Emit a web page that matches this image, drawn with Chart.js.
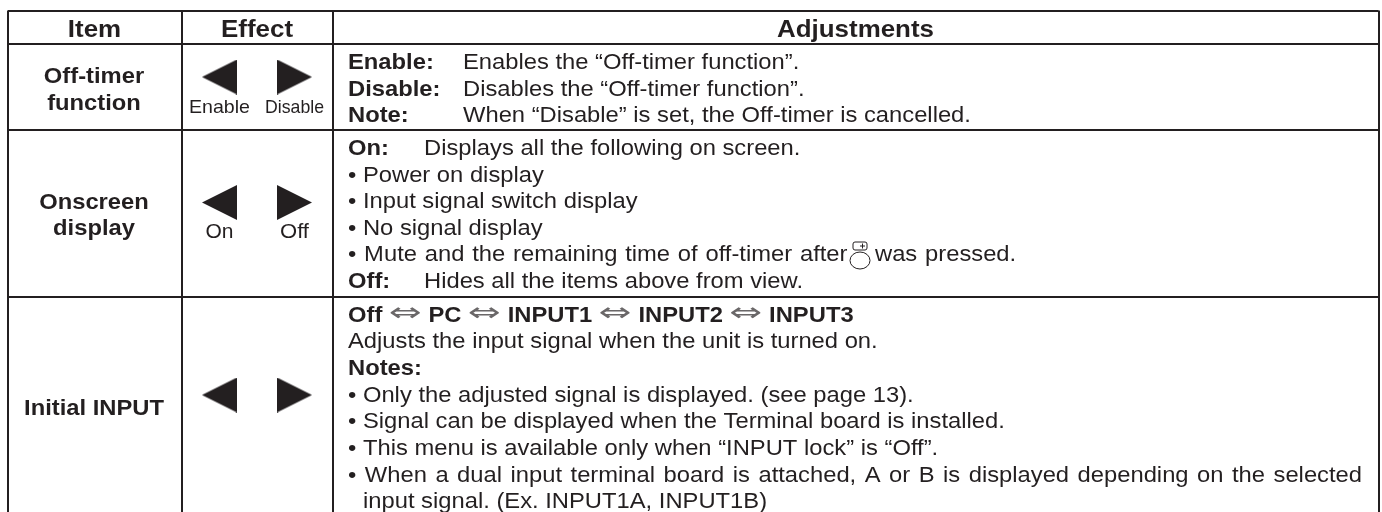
<!DOCTYPE html>
<html>
<head>
<meta charset="utf-8">
<style>
	html, body { margin: 0; padding: 0; background: #fff; }
	#wrap { width: 1382px; height: 512px; }
</style>
<script src="https://cdn.jsdelivr.net/npm/chart.js@4/dist/chart.umd.js"></script>
</head>
<body>
<div id="wrap"><canvas id="table" width="1382" height="512"></canvas></div>
<script>
const headers = ["Item", "Effect", "Adjustments"]
const items = [["Off-timer", "function"], ["Onscreen", "display"], ["Initial INPUT"]]
const effectLabels = [["Enable", "Disable"], ["On", "Off"], []]
// *bold* runs, a tab jumps to the line's tab stop
const adjustments = [
	"*Enable:*\tEnables the “Off-timer function”.",
	"*Disable:*\tDisables the “Off-timer function”.",
	"*Note:*\tWhen “Disable” is set, the Off-timer is cancelled.",
	"*On:*\tDisplays all the following on screen.",
	"• Power on display",
	"• Input signal switch display",
	"• No signal display",
	"• Mute and the remaining time of off-timer after\twas pressed.",
	"*Off:*\tHides all the items above from view.",
	"*Off* ⇔ *PC* ⇔ *INPUT1* ⇔ *INPUT2* ⇔ *INPUT3*",
	"Adjusts the input signal when the unit is turned on.",
	"*Notes:*",
	"• Only the adjusted signal is displayed. (see page 13).",
	"• Signal can be displayed when the Terminal board is installed.",
	"• This menu is available only when “INPUT lock” is “Off”.",
	"• When a dual input terminal board is attached, A or B is displayed depending on the selected",
	"input signal. (Ex. INPUT1A, INPUT1B)",
]

// layout, in page pixels
const colEdges = [7.5, 181.5, 332.5, 1378.5]
const rowEdges = [10.5, 44, 130, 296.5]
const adjBaselines = [69, 96, 122, 155, 182, 208, 235, 261, 288, 322, 348, 375, 402, 428, 455, 482, 508]
const adjLeft = [348, 348, 348, 348, 348, 348, 348, 348, 348, 348, 348, 348, 348, 348, 348, 348, 363]
const adjTabs = [463, 463, 463, 424, 0, 0, 0, 875, 424, 0, 0, 0, 0, 0, 0, 0, 0]
const adjWordGap = [0, 0, 0, 0, 0, 0, 0, 1.2, 0, 0, 0, 0, 0, 0, 0, 0, 0]
const justifiedLine = 15
const justifiedEnd = 1362
const arrowRows = [77, 202.5, 395]
const arrowCols = [219.5, 294.5]
const itemBaselines = [[83, 110], [209, 235], [415]]
const effectBaselines = [113, 238]
const effectWidths = [[61, 59], [28, 29]]
const effectFonts = [19, 20]
const buttonIcon = { x: 860, capTop: 242, capBottom: 250, capHalf: 7, ringY: 260.5, ringRx: 10, ringRy: 8.5 }
const stretch = 1.08
const ink = "#231f20"

function arrowImage(dir) {
	const c = document.createElement("canvas")
	c.width = 35
	c.height = 35
	const g = c.getContext("2d")
	g.fillStyle = ink
	g.beginPath()
	g.moveTo(dir < 0 ? 35 : 0, 0)
	g.lineTo(dir < 0 ? 0 : 35, 17.5)
	g.lineTo(dir < 0 ? 35 : 0, 35)
	g.fill()
	return c
}

// the source text is wider than Liberation Sans, so every string is stretched
function wideText(ctx, text, x, y, sx) {
	ctx.save()
	ctx.translate(x, y)
	ctx.scale(sx, 1)
	ctx.fillText(text, 0, 0)
	ctx.restore()
}

function bodyFont(bold) {
	return (bold ? "bold " : "") + "22px 'Liberation Sans'"
}

function drawRuns(ctx, line, x, y, tabX, gap, justifyTo) {
	const parts = line.split("*")
	if (justifyTo) {
		let total = 0
		let gaps = 0
		parts.forEach((p, i) => {
			ctx.font = bodyFont(i % 2)
			total += ctx.measureText(p).width * stretch
			gaps += (p.match(/ /g) || []).length
		})
		gap = (justifyTo - x - total) / gaps
	}
	ctx.wordSpacing = (gap / stretch) + "px"
	parts.forEach((p, i) => {
		p.split("\t").forEach((seg, k) => {
			if (k > 0) x = tabX
			seg.split(/(⇔)/).forEach(t => {
				if (t === "⇔") {
					ctx.font = "26px 'DejaVu Sans'"
					ctx.fillStyle = "#6a6768"
					wideText(ctx, t, x, y - 1, 33 / ctx.measureText(t).width)
					ctx.fillStyle = ink
					x += 33
				} else {
					ctx.font = bodyFont(i % 2)
					wideText(ctx, t, x, y, stretch)
					x += ctx.measureText(t).width * stretch
				}
			})
		})
	})
	ctx.wordSpacing = "0px"
}

function drawButtonIcon(ctx, xs, ys) {
	const b = buttonIcon
	const cx = xs.getPixelForValue(b.x)
	const top = ys.getPixelForValue(b.capTop)
	const bottom = ys.getPixelForValue(b.capBottom)
	ctx.strokeStyle = ink
	ctx.lineWidth = 1
	ctx.beginPath()
	ctx.roundRect(cx - b.capHalf, top, b.capHalf * 2, bottom - top, 2)
	ctx.moveTo(cx, top + 4)
	ctx.lineTo(cx + 5, top + 4)
	ctx.moveTo(cx + 2.5, top + 1.5)
	ctx.lineTo(cx + 2.5, top + 6.5)
	ctx.stroke()
	ctx.beginPath()
	ctx.ellipse(cx, ys.getPixelForValue(b.ringY), b.ringRx, b.ringRy, 0, 0, Math.PI * 2)
	ctx.stroke()
}

const tableText = {
	id: "tableText",
	afterDatasetsDraw(chart) {
		const { ctx, scales: { x, y } } = chart
		ctx.save()
		ctx.fillStyle = ink
		ctx.textBaseline = "alphabetic"
		ctx.textAlign = "center"

		ctx.font = "bold 24px 'Liberation Sans'"
		headers.forEach((h, i) => {
			wideText(ctx, h, x.getPixelForValue((colEdges[i] + colEdges[i + 1]) / 2), y.getPixelForValue(37), stretch)
		})
		ctx.font = bodyFont(true)
		items.forEach((lines, r) => {
			lines.forEach((t, k) => {
				wideText(ctx, t, x.getPixelForValue(94), y.getPixelForValue(itemBaselines[r][k]), stretch)
			})
		})
		effectLabels.forEach((pair, r) => {
			pair.forEach((t, k) => {
				ctx.font = effectFonts[r] + "px 'Liberation Sans'"
				const sx = effectWidths[r][k] / ctx.measureText(t).width
				wideText(ctx, t, x.getPixelForValue(arrowCols[k]), y.getPixelForValue(effectBaselines[r]), sx)
			})
		})

		ctx.textAlign = "left"
		adjustments.forEach((line, i) => {
			drawRuns(ctx, line, x.getPixelForValue(adjLeft[i]), y.getPixelForValue(adjBaselines[i]),
				x.getPixelForValue(adjTabs[i]), adjWordGap[i], i === justifiedLine ? justifiedEnd : 0)
		})
		drawButtonIcon(ctx, x, y)
		ctx.restore()
	}
}

new Chart(document.getElementById("table"), {
	type: "scatter",
	data: {
		datasets: [
			{
				data: arrowRows.map(v => ({ x: arrowCols[0], y: v })),
				pointStyle: arrowImage(-1),
			},
			{
				data: arrowRows.map(v => ({ x: arrowCols[1], y: v })),
				pointStyle: arrowImage(1),
			},
		],
	},
	options: {
		responsive: false,
		animation: false,
		layout: { autoPadding: false, padding: { left: 7.5, top: 10.5, right: 3.5, bottom: 0 } },
		plugins: { legend: { display: false }, tooltip: { enabled: false } },
		scales: {
			x: {
				type: "linear",
				min: colEdges[0],
				max: colEdges[colEdges.length - 1],
				afterBuildTicks: s => { s.ticks = colEdges.map(v => ({ value: v })) },
				ticks: { display: false },
				border: { display: false },
				grid: { color: ink, lineWidth: 2, drawTicks: false },
			},
			y: {
				type: "linear",
				reverse: true,
				min: rowEdges[0],
				max: 512,
				afterBuildTicks: s => { s.ticks = rowEdges.map(v => ({ value: v })) },
				ticks: { display: false },
				border: { display: false },
				grid: { color: ink, lineWidth: 2, drawTicks: false },
			},
		},
	},
	plugins: [tableText],
})
</script>
</body>
</html>
